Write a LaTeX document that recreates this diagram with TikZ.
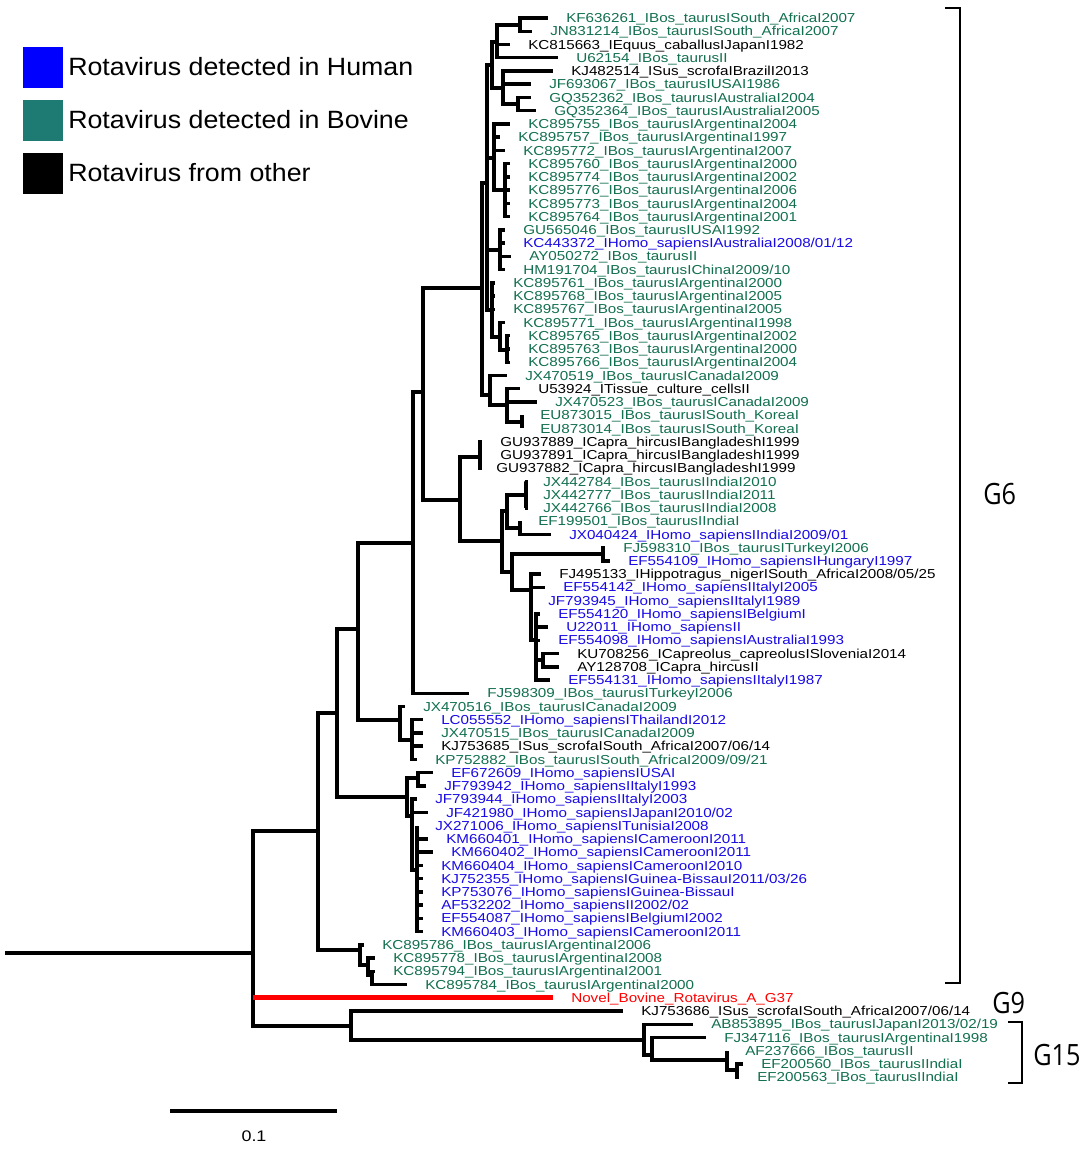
\documentclass[tikz,border=0pt]{standalone}
\usepackage{fontspec}
\setmainfont{Liberation Sans}
\newfontfamily\labfont[FakeStretch=1.17]{Liberation Sans}
\newfontfamily\legfont[FakeStretch=1.07]{Liberation Sans}
\newfontfamily\gfont[FakeStretch=0.86]{Open Sans}
\definecolor{hum}{RGB}{25,10,230}
\definecolor{bov}{RGB}{18,112,78}
\definecolor{bovbox}{RGB}{30,123,115}
\definecolor{oth}{RGB}{0,0,0}
\definecolor{nov}{RGB}{255,0,0}
\newcommand\leaf[5]{\node[leaf,text=#4] (#1) at (#2,{18+(#3-1)*13.24}) {#5};}
\newcommand\kids[2]{\foreach \kk in {#2}{\draw[br] (#1) |- (\kk);}}
\tikzset{
  br/.style={line width=2.6pt, black, line join=miter},
  redbr/.style={line width=3.9pt, nov},
  leaf/.style={anchor=west, inner xsep=13.5pt, inner ysep=0pt, text height=7pt, text depth=0pt,
     font=\labfont\fontsize{9.75pt}{10pt}\selectfont},
  legtext/.style={anchor=west, inner sep=0pt, font=\legfont\fontsize{18.75pt}{20pt}\selectfont},
  clade/.style={anchor=west, inner sep=0pt, font=\gfont\fontsize{22pt}{24pt}\selectfont},
  brk/.style={line width=1.6pt, black}
}
\begin{document}
\begin{tikzpicture}[x=0.75pt,y=-0.75pt]
\fill[white] (0,0) rectangle (1084,1149);
\useasboundingbox (0,0) rectangle (1084,1149);

% legend
\fill[blue] (23,47) rectangle (63,88);
\fill[bovbox] (23,100) rectangle (63,141);
\fill[black] (23,153) rectangle (63,194);
\node[legtext] (lh) at (68,67) {Rotavirus detected in Human};
\node[legtext] (lb) at (68,120) {Rotavirus detected in Bovine};
\node[legtext] (lo) at (68,173) {Rotavirus from other};

% leaves
\leaf{l1}{548}{1}{bov}{KF636261\_IBos\_taurusISouth\_AfricaI2007}
\leaf{l2}{532}{2}{bov}{JN831214\_IBos\_taurusISouth\_AfricaI2007}
\leaf{l3}{510}{3}{oth}{KC815663\_IEquus\_caballusIJapanI1982}
\leaf{l4}{558}{4}{bov}{U62154\_IBos\_taurusII}
\leaf{l5}{553}{5}{oth}{KJ482514\_ISus\_scrofaIBrazilI2013}
\leaf{l6}{531}{6}{bov}{JF693067\_IBos\_taurusIUSAI1986}
\leaf{l7}{531}{7}{bov}{GQ352362\_IBos\_taurusIAustraliaI2004}
\leaf{l8}{536}{8}{bov}{GQ352364\_IBos\_taurusIAustraliaI2005}
\leaf{l9}{510}{9}{bov}{KC895755\_IBos\_taurusIArgentinaI2004}
\leaf{l10}{500}{10}{bov}{KC895757\_IBos\_taurusIArgentinaI1997}
\leaf{l11}{505}{11}{bov}{KC895772\_IBos\_taurusIArgentinaI2007}
\leaf{l12}{510}{12}{bov}{KC895760\_IBos\_taurusIArgentinaI2000}
\leaf{l13}{510}{13}{bov}{KC895774\_IBos\_taurusIArgentinaI2002}
\leaf{l14}{510}{14}{bov}{KC895776\_IBos\_taurusIArgentinaI2006}
\leaf{l15}{510}{15}{bov}{KC895773\_IBos\_taurusIArgentinaI2004}
\leaf{l16}{510}{16}{bov}{KC895764\_IBos\_taurusIArgentinaI2001}
\leaf{l17}{505}{17}{bov}{GU565046\_IBos\_taurusIUSAI1992}
\leaf{l18}{505}{18}{hum}{KC443372\_IHomo\_sapiensIAustraliaI2008/01/12}
\leaf{l19}{511}{19}{bov}{AY050272\_IBos\_taurusII}
\leaf{l20}{505}{20}{bov}{HM191704\_IBos\_taurusIChinaI2009/10}
\leaf{l21}{495}{21}{bov}{KC895761\_IBos\_taurusIArgentinaI2000}
\leaf{l22}{495}{22}{bov}{KC895768\_IBos\_taurusIArgentinaI2005}
\leaf{l23}{495}{23}{bov}{KC895767\_IBos\_taurusIArgentinaI2005}
\leaf{l24}{505}{24}{bov}{KC895771\_IBos\_taurusIArgentinaI1998}
\leaf{l25}{510}{25}{bov}{KC895765\_IBos\_taurusIArgentinaI2002}
\leaf{l26}{510}{26}{bov}{KC895763\_IBos\_taurusIArgentinaI2000}
\leaf{l27}{510}{27}{bov}{KC895766\_IBos\_taurusIArgentinaI2004}
\leaf{l28}{507}{28}{bov}{JX470519\_IBos\_taurusICanadaI2009}
\leaf{l29}{520}{29}{oth}{U53924\_ITissue\_culture\_cellsII}
\leaf{l30}{537}{30}{bov}{JX470523\_IBos\_taurusICanadaI2009}
\leaf{l31}{522}{31}{bov}{EU873015\_IBos\_taurusISouth\_KoreaI}
\leaf{l32}{522}{32}{bov}{EU873014\_IBos\_taurusISouth\_KoreaI}
\leaf{l33}{482}{33}{oth}{GU937889\_ICapra\_hircusIBangladeshI1999}
\leaf{l34}{482}{34}{oth}{GU937891\_ICapra\_hircusIBangladeshI1999}
\leaf{l35}{478}{35}{oth}{GU937882\_ICapra\_hircusIBangladeshI1999}
\leaf{l36}{525}{36}{bov}{JX442784\_IBos\_taurusIIndiaI2010}
\leaf{l37}{525}{37}{bov}{JX442777\_IBos\_taurusIIndiaI2011}
\leaf{l38}{525}{38}{bov}{JX442766\_IBos\_taurusIIndiaI2008}
\leaf{l39}{520}{39}{bov}{EF199501\_IBos\_taurusIIndiaI}
\leaf{l40}{551}{40}{hum}{JX040424\_IHomo\_sapiensIIndiaI2009/01}
\leaf{l41}{605}{41}{bov}{FJ598310\_IBos\_taurusITurkeyI2006}
\leaf{l42}{610}{42}{hum}{EF554109\_IHomo\_sapiensIHungaryI1997}
\leaf{l43}{541}{43}{oth}{FJ495133\_IHippotragus\_nigerISouth\_AfricaI2008/05/25}
\leaf{l44}{545}{44}{hum}{EF554142\_IHomo\_sapiensIItalyI2005}
\leaf{l45}{530}{45}{hum}{JF793945\_IHomo\_sapiensIItalyI1989}
\leaf{l46}{540}{46}{hum}{EF554120\_IHomo\_sapiensIBelgiumI}
\leaf{l47}{548}{47}{hum}{U22011\_IHomo\_sapiensII}
\leaf{l48}{540}{48}{hum}{EF554098\_IHomo\_sapiensIAustraliaI1993}
\leaf{l49}{559}{49}{oth}{KU708256\_ICapreolus\_capreolusISloveniaI2014}
\leaf{l50}{559}{50}{oth}{AY128708\_ICapra\_hircusII}
\leaf{l51}{550}{51}{hum}{EF554131\_IHomo\_sapiensIItalyI1987}
\leaf{l52}{469}{52}{bov}{FJ598309\_IBos\_taurusITurkeyI2006}
\leaf{l53}{405}{53}{bov}{JX470516\_IBos\_taurusICanadaI2009}
\leaf{l54}{423}{54}{hum}{LC055552\_IHomo\_sapiensIThailandI2012}
\leaf{l55}{423}{55}{bov}{JX470515\_IBos\_taurusICanadaI2009}
\leaf{l56}{423}{56}{oth}{KJ753685\_ISus\_scrofaISouth\_AfricaI2007/06/14}
\leaf{l57}{417}{57}{bov}{KP752882\_IBos\_taurusISouth\_AfricaI2009/09/21}
\leaf{l58}{433}{58}{hum}{EF672609\_IHomo\_sapiensIUSAI}
\leaf{l59}{426}{59}{hum}{JF793942\_IHomo\_sapiensIItalyI1993}
\leaf{l60}{417}{60}{hum}{JF793944\_IHomo\_sapiensIItalyI2003}
\leaf{l61}{428}{61}{hum}{JF421980\_IHomo\_sapiensIJapanI2010/02}
\leaf{l62}{417}{62}{hum}{JX271006\_IHomo\_sapiensITunisiaI2008}
\leaf{l63}{428}{63}{hum}{KM660401\_IHomo\_sapiensICameroonI2011}
\leaf{l64}{433}{64}{hum}{KM660402\_IHomo\_sapiensICameroonI2011}
\leaf{l65}{423}{65}{hum}{KM660404\_IHomo\_sapiensICameroonI2010}
\leaf{l66}{423}{66}{hum}{KJ752355\_IHomo\_sapiensIGuinea-BissauI2011/03/26}
\leaf{l67}{423}{67}{hum}{KP753076\_IHomo\_sapiensIGuinea-BissauI}
\leaf{l68}{423}{68}{hum}{AF532202\_IHomo\_sapiensII2002/02}
\leaf{l69}{423}{69}{hum}{EF554087\_IHomo\_sapiensIBelgiumI2002}
\leaf{l70}{423}{70}{hum}{KM660403\_IHomo\_sapiensICameroonI2011}
\leaf{l71}{364}{71}{bov}{KC895786\_IBos\_taurusIArgentinaI2006}
\leaf{l72}{375}{72}{bov}{KC895778\_IBos\_taurusIArgentinaI2008}
\leaf{l73}{375}{73}{bov}{KC895794\_IBos\_taurusIArgentinaI2001}
\leaf{l74}{407}{74}{bov}{KC895784\_IBos\_taurusIArgentinaI2000}
\leaf{l75}{553}{75}{nov}{Novel\_Bovine\_Rotavirus\_A\_G37}
\leaf{l76}{623}{76}{oth}{KJ753686\_ISus\_scrofaISouth\_AfricaI2007/06/14}
\leaf{l77}{693}{77}{bov}{AB853895\_IBos\_taurusIJapanI2013/02/19}
\leaf{l78}{706}{78}{bov}{FJ347116\_IBos\_taurusIArgentinaI1998}
\leaf{l79}{727}{79}{bov}{AF237666\_IBos\_taurusII}
\leaf{l80}{743}{80}{bov}{EF200560\_IBos\_taurusIIndiaI}
\leaf{l81}{739}{81}{bov}{EF200563\_IBos\_taurusIIndiaI}

% internal nodes
\coordinate (a1) at (520,25);
\coordinate (a2) at (497,42);
\coordinate (b2) at (518,104);
\coordinate (b1) at (503,88);
\coordinate (u1) at (492,65);
\coordinate (v1) at (505,190);
\coordinate (u2) at (494,158);
\coordinate (w1) at (500,250);
\coordinate (z3) at (507,350);
\coordinate (z2) at (500,337);
\coordinate (z1) at (492,310);
\coordinate (U) at (487,183);
\coordinate (L3) at (522,422);
\coordinate (L2) at (507,405);
\coordinate (L1) at (490,395);
\coordinate (T) at (482,288);
\coordinate (g1) at (480,457);
\coordinate (j1) at (526,495);
\coordinate (j3) at (520,528);
\coordinate (j2) at (507,511);
\coordinate (fe) at (603,554);
\coordinate (k4) at (543,660);
\coordinate (k3) at (536,640);
\coordinate (k2) at (531,590);
\coordinate (k1) at (512,572);
\coordinate (N503) at (502,541);
\coordinate (N460) at (460,500);
\coordinate (N423) at (423,392);
\coordinate (N413) at (413,543);
\coordinate (P2) at (412,740);
\coordinate (P1) at (400,720);
\coordinate (N358) at (358,629);
\coordinate (e1) at (418,778);
\coordinate (H3) at (417,870);
\coordinate (H2) at (412,816);
\coordinate (H) at (407,797);
\coordinate (B) at (337,713);
\coordinate (c3) at (372,975);
\coordinate (c2) at (368,965);
\coordinate (c1) at (360,950);
\coordinate (A) at (318,831);
\coordinate (gD) at (737,1070);
\coordinate (gC) at (727,1060);
\coordinate (gB) at (652,1055);
\coordinate (gA) at (644,1040);
\coordinate (G915) at (351,1026);
\coordinate (R) at (253,953);
\coordinate (root) at (5,953);

% edges
\kids{a1}{l1,l2}
\kids{a2}{a1,l3,l4}
\kids{b2}{l7,l8}
\kids{b1}{l5,l6,b2}
\kids{u1}{a2,b1}
\kids{v1}{l12,l13,l14,l15,l16}
\kids{u2}{l9,l10,l11,v1}
\kids{w1}{l17,l18,l19,l20}
\kids{z3}{l25,l26,l27}
\kids{z2}{l24,z3}
\kids{z1}{l21,l22,l23,z2}
\kids{U}{u1,u2,w1,z1}
\kids{L3}{l31,l32}
\kids{L2}{l29,l30,L3}
\kids{L1}{l28,L2}
\kids{T}{U,L1}
\kids{g1}{l33,l34,l35}
\kids{j1}{l36,l37,l38}
\kids{j3}{l39,l40}
\kids{j2}{j1,j3}
\kids{fe}{l41,l42}
\kids{k4}{l49,l50}
\kids{k3}{l46,l47,l48,k4,l51}
\kids{k2}{l43,l44,l45,k3}
\kids{k1}{fe,k2}
\kids{N503}{j2,k1}
\kids{N460}{g1,N503}
\kids{N423}{T,N460}
\kids{N413}{N423,l52}
\kids{P2}{l54,l55,l56,l57}
\kids{P1}{l53,P2}
\kids{N358}{N413,P1}
\kids{e1}{l58,l59}
\kids{H3}{l62,l63,l64,l65,l66,l67,l68,l69,l70}
\kids{H2}{l60,l61,H3}
\kids{H}{e1,H2}
\kids{B}{N358,H}
\kids{c3}{l73,l74}
\kids{c2}{l72,c3}
\kids{c1}{l71,c2}
\kids{A}{B,c1}
\kids{gD}{l80,l81}
\kids{gC}{l79,gD}
\kids{gB}{l78,gC}
\kids{gA}{l77,gB}
\kids{G915}{l76,gA}
\kids{R}{A,G915}
\draw[br] (root) -- (R);
\draw[redbr] (R |- l75.west) -- (l75.west);

% clade brackets
\coordinate (g6t) at (945,8);
\coordinate (g6b) at (945,983);
\draw[brk] (g6t) -- ++(15,0) |- (g6b);
\node[clade] (G6) at (983,494) {G6};
\node[clade] (G9) at (992,1003) {G9};
\coordinate (g15t) at (1008,1022);
\coordinate (g15b) at (1008,1083);
\draw[brk] (g15t) -- ++(14,0) |- (g15b);
\node[clade] (G15) at (1033,1055) {G15};

% scale bar
\coordinate (sb1) at (170,1111);
\coordinate (sb2) at (337,1111);
\draw[line width=3pt] (sb1) -- (sb2);
\node[font=\labfont\fontsize{11.5pt}{12pt}\selectfont, inner sep=0pt] (sbl) at (254,1136) {0.1};
\end{tikzpicture}
\end{document}
